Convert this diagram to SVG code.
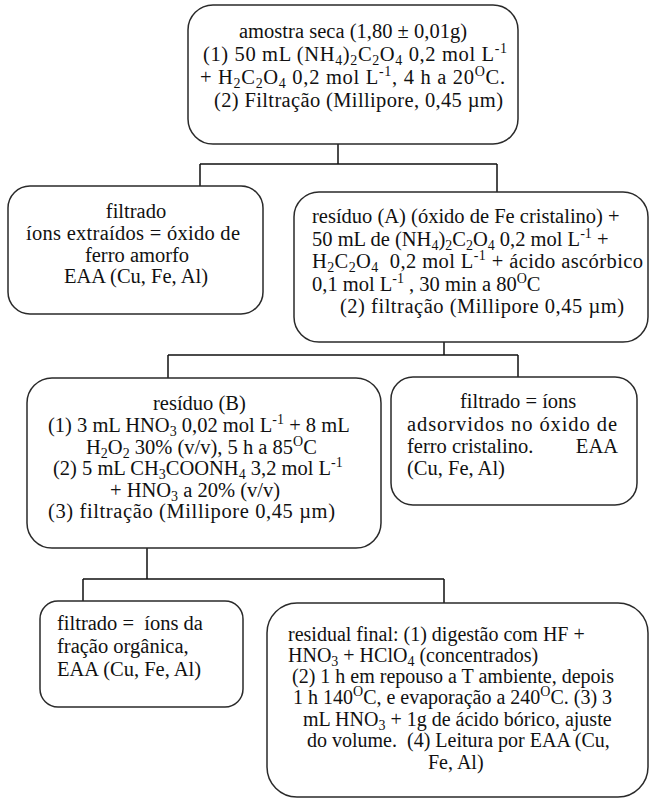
<svg xmlns="http://www.w3.org/2000/svg" width="650" height="799" viewBox="0 0 650 799" font-family="Liberation Serif, Times New Roman, DejaVu Serif, serif">
<style>
.box{fill:#fff;stroke:#2a2a2a;stroke-width:1.5}
.conn{fill:none;stroke:#111;stroke-width:1.5}
.t text{font-family:'Liberation Serif','Times New Roman','DejaVu Serif',serif;font-size:20.5px;fill:#111}
.s text{font-size:20px}
.c{text-anchor:middle}
.e{text-anchor:end}
.sub{font-size:14px;baseline-shift:-4px}
.sup{font-size:14px;baseline-shift:8px}
</style>
<rect width="650" height="799" fill="#fff"/>
<g id="connectors">
<path class="conn" d="M338 144V164M200 164H497M200 164V186M497 164V192"/>
<path class="conn" d="M444 342V355M168 355H518M168 355V378M518 355V377"/>
<path class="conn" d="M147 548V579M83 579H444M83 579V601M444 579V603"/>
</g>
<g id="n-amostra" class="t">
<rect class="box" x="188" y="5" width="330" height="139" rx="25"/>
<text x="239" y="38" textLength="228" lengthAdjust="spacing">amostra seca (1,80 ± 0,01g)</text>
<text x="203" y="61" textLength="304" lengthAdjust="spacing">(1) 50 mL (NH<tspan class="sub">4</tspan>)<tspan class="sub">2</tspan>C<tspan class="sub">2</tspan>O<tspan class="sub">4</tspan> 0,2 mol L<tspan class="sup">-1</tspan></text>
<text x="200" y="84" textLength="305" lengthAdjust="spacing">+ H<tspan class="sub">2</tspan>C<tspan class="sub">2</tspan>O<tspan class="sub">4</tspan> 0,2 mol L<tspan class="sup">-1</tspan>, 4 h a 20<tspan class="sup">O</tspan>C.</text>
<text x="214" y="107" textLength="289" lengthAdjust="spacing">(2) Filtração (Millipore, 0,45 µm)</text>
</g>
<g id="n-filtrado1" class="t">
<rect class="box" x="8" y="186" width="255" height="128" rx="22"/>
<text class="c" x="136" y="218">filtrado</text>
<text class="c" x="133" y="240" textLength="214" lengthAdjust="spacing">íons extraídos = óxido de</text>
<text class="c" x="137" y="262">ferro amorfo</text>
<text class="c" x="136" y="283">EAA (Cu, Fe, Al)</text>
</g>
<g id="n-residuoA" class="t">
<rect class="box" x="294" y="192" width="354" height="150" rx="25"/>
<text x="312" y="223">resíduo (A) (óxido de Fe cristalino) +</text>
<text x="312" y="246">50 mL de (NH<tspan class="sub">4</tspan>)<tspan class="sub">2</tspan>C<tspan class="sub">2</tspan>O<tspan class="sub">4</tspan> 0,2 mol L<tspan class="sup">-1</tspan> +</text>
<text x="312" y="268" xml:space="preserve" textLength="331" lengthAdjust="spacing">H<tspan class="sub">2</tspan>C<tspan class="sub">2</tspan>O<tspan class="sub">4</tspan>  0,2 mol L<tspan class="sup">-1</tspan> + ácido ascórbico</text>
<text x="312" y="291">0,1 mol L<tspan class="sup">-1</tspan> , 30 min a 80<tspan class="sup">O</tspan>C</text>
<text x="340" y="313" textLength="284" lengthAdjust="spacing">(2) filtração (Millipore 0,45 µm)</text>
</g>
<g id="n-residuoB" class="t">
<rect class="box" x="27" y="378" width="354" height="170" rx="25"/>
<text x="153" y="410">resíduo (B)</text>
<text x="48" y="432">(1) 3 mL HNO<tspan class="sub">3</tspan> 0,02 mol L<tspan class="sup">-1</tspan> + 8 mL</text>
<text x="86" y="454">H<tspan class="sub">2</tspan>O<tspan class="sub">2</tspan> 30% (v/v), 5 h a 85<tspan class="sup">O</tspan>C</text>
<text x="53" y="475">(2) 5 mL CH<tspan class="sub">3</tspan>COONH<tspan class="sub">4</tspan> 3,2 mol L<tspan class="sup">-1</tspan></text>
<text x="110" y="497">+ HNO<tspan class="sub">3</tspan> a 20% (v/v)</text>
<text x="48" y="518" textLength="287" lengthAdjust="spacing">(3) filtração (Millipore 0,45 µm)</text>
</g>
<g id="n-filtrado2" class="t">
<rect class="box" x="391" y="377" width="246" height="128" rx="22"/>
<text x="460" y="408">filtrado = íons</text>
<text x="407" y="431" textLength="210" lengthAdjust="spacing">adsorvidos no óxido de</text>
<text x="407" y="453">ferro cristalino.</text>
<text class="e" x="618" y="453">EAA</text>
<text x="407" y="475">(Cu, Fe, Al)</text>
</g>
<g id="n-filtrado3" class="t">
<rect class="box" x="40" y="601" width="203" height="106" rx="18"/>
<text x="57" y="630" xml:space="preserve">filtrado =  íons da</text>
<text x="57" y="653">fração orgânica,</text>
<text x="57" y="676">EAA (Cu, Fe, Al)</text>
</g>
<g id="n-residualfinal" class="t s">
<rect class="box" x="267" y="603" width="381" height="194" rx="30"/>
<text x="288" y="641">residual final: (1) digestão com HF +</text>
<text x="288" y="662">HNO<tspan class="sub">3</tspan> + HClO<tspan class="sub">4</tspan> (concentrados)</text>
<text x="292" y="683">(2) 1 h em repouso a T ambiente, depois</text>
<text x="293" y="704">1 h 140<tspan class="sup">O</tspan>C, e evaporação a 240<tspan class="sup">O</tspan>C. (3) 3</text>
<text x="303" y="726">mL HNO<tspan class="sub">3</tspan> + 1g de ácido bórico, ajuste</text>
<text x="307" y="747" xml:space="preserve">do volume.  (4) Leitura por EAA (Cu,</text>
<text x="428" y="769">Fe, Al)</text>
</g>
</svg>
